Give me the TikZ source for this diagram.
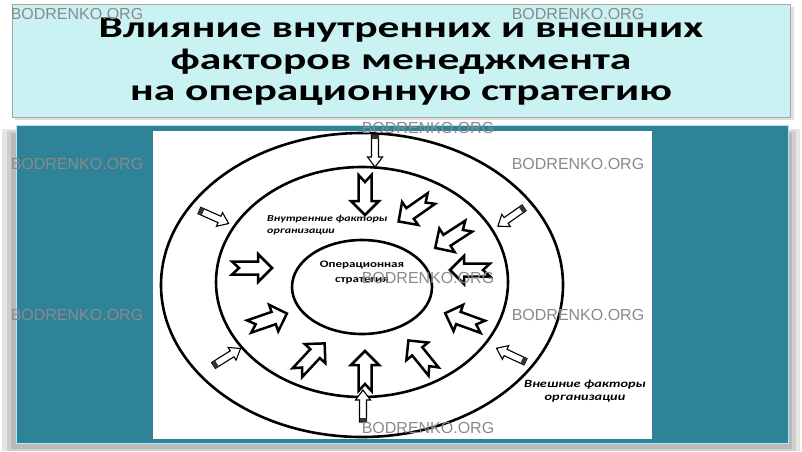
\documentclass[tikz,border=0pt]{standalone}
\usepackage{fontspec}
\setmainfont{Carlito}
\newfontfamily\titlefont{Carlito}[FakeStretch=1.45]
\newfontfamily\diagfont{Carlito}[FakeStretch=1.3]
\newfontfamily\markfont{Liberation Sans}
\usepackage{tikz}
\usetikzlibrary{positioning}

\definecolor{PanelTeal}{HTML}{2E8399}
\definecolor{TitleCyan}{HTML}{CAF2F2}
\definecolor{MarkGrey}{HTML}{8A8A8A}

\tikzset{
	fatarrow/.pic={
		\draw[line width=2.5pt, fill=white, line join=miter]
			(-20,6.5) -- (6,6.5) -- (6,14) -- (20,0) -- (6,-14) -- (6,-6.5)
			-- (-20,-6.5) -- (-13,0) -- cycle;
	},
	slimarrow/.pic={
		\draw[line width=1.1pt, fill=white]
			(-16,3.5) -- (6,3.5) -- (6,7.5) -- (16,0) -- (6,-7.5) -- (6,-3.5)
			-- (-16,-3.5) -- cycle;
		\fill[black!80] (-16,-3.5) rectangle (-12,3.5);
	},
	ring/.style={line width=2.6pt, black},
	watermark/.style={text=MarkGrey, inner sep=0pt,
		font=\markfont\fontsize{16}{16}\selectfont},
	factor/.style={inner sep=0pt,
		font=\diagfont\bfseries\itshape\fontsize{11}{13.5}\selectfont},
}

\begin{document}
\begin{tikzpicture}[x=1pt, y=-1pt]

		% ---------------------
		% Proper size --- Bounding box
		\useasboundingbox (0,0) rectangle (802,451);

		% ---------------------
		% Shadows & panels
		\fill[black, opacity=0.10] (2,129) rectangle (800,451);
		\fill[black, opacity=0.10] (7,131) rectangle (796,451);
		\fill[black, opacity=0.10] (11,133) rectangle (792,449);
		\fill[black, opacity=0.12] (15,7) rectangle (794,120);

		\filldraw[fill=TitleCyan, draw=gray!70, line width=1pt] (12,4) rectangle (790,117);
		\node[align=center, inner sep=0pt,
			font=\titlefont\bfseries\fontsize{30}{31.5}\selectfont] (Title) at (401,62)
			{Влияние внутренних и внешних\\факторов менеджмента\\на операционную стратегию};

		\filldraw[fill=PanelTeal, draw=cyan!30, line width=0.8pt] (16,125) rectangle (788,443);
		\fill[white] (153,131) rectangle (652,439);

		% ---------------------
		% Rings
		\coordinate (Centre) at (362,285);
		\path (Centre) +(0,-3) coordinate (MidC);
		\path (Centre) +(0,2) coordinate (InC);

		\draw[ring] (Centre) ellipse [x radius=201, y radius=152];
		\draw[ring] (MidC) ellipse [x radius=146, y radius=115];
		\draw[ring] (InC) ellipse [x radius=70, y radius=47];

		% ---------------------
		% Inner factors
		\pic[rotate=-90] at (365,195) {fatarrow};
		\pic[rotate=-145] at (415,210) {fatarrow};
		\pic[rotate=-147] at (452,237) {fatarrow};
		\pic[rotate=180] at (470,270) {fatarrow};
		\pic[rotate=160] at (464,320) {fatarrow};
		\pic[rotate=129] at (421,356) {fatarrow};
		\pic[rotate=90] at (365,371) {fatarrow};
		\pic[rotate=47] at (311,358) {fatarrow};
		\pic[rotate=19] at (268,320) {fatarrow};
		\pic[rotate=0] at (252,268) {fatarrow};

		% ---------------------
		% External factors
		\pic[rotate=-90] at (375,151) {slimarrow};
		\pic[rotate=-145] at (511,217) {slimarrow};
		\pic[rotate=155] at (511,355) {slimarrow};
		\pic[rotate=90] at (363,406) {slimarrow};
		\pic[rotate=32] at (227,357) {slimarrow};
		\pic[rotate=-24] at (214,217) {slimarrow};

		% ---------------------
		% Labels
		\node[factor, align=left, anchor=north west,
			font=\diagfont\bfseries\itshape\fontsize{9.2}{12.5}\selectfont] (InFact) at (267,215)
			{Внутренние факторы\\организации};
		\node[factor, align=center] (ExFact) at (585,391)
			{Внешние факторы\\организации};
		\node[align=center, inner sep=0pt,
			font=\diagfont\bfseries\fontsize{10}{15}\selectfont] (Strat) at (362,272)
			{Операционная\\стратегия};

		% ---------------------
		% Watermarks
		\node[watermark] (Mark1) at (77,14) {BODRENKO.ORG};
		\node[watermark] (Mark2) at (578,14) {BODRENKO.ORG};
		\node[watermark] (Mark3) at (428,128) {BODRENKO.ORG};
		\node[watermark] (Mark4) at (77,164) {BODRENKO.ORG};
		\node[watermark] (Mark5) at (578,164) {BODRENKO.ORG};
		\node[watermark] (Mark6) at (428,278) {BODRENKO.ORG};
		\node[watermark] (Mark7) at (77,315) {BODRENKO.ORG};
		\node[watermark] (Mark8) at (578,315) {BODRENKO.ORG};
		\node[watermark] (Mark9) at (428,428) {BODRENKO.ORG};

\end{tikzpicture}
\end{document}
